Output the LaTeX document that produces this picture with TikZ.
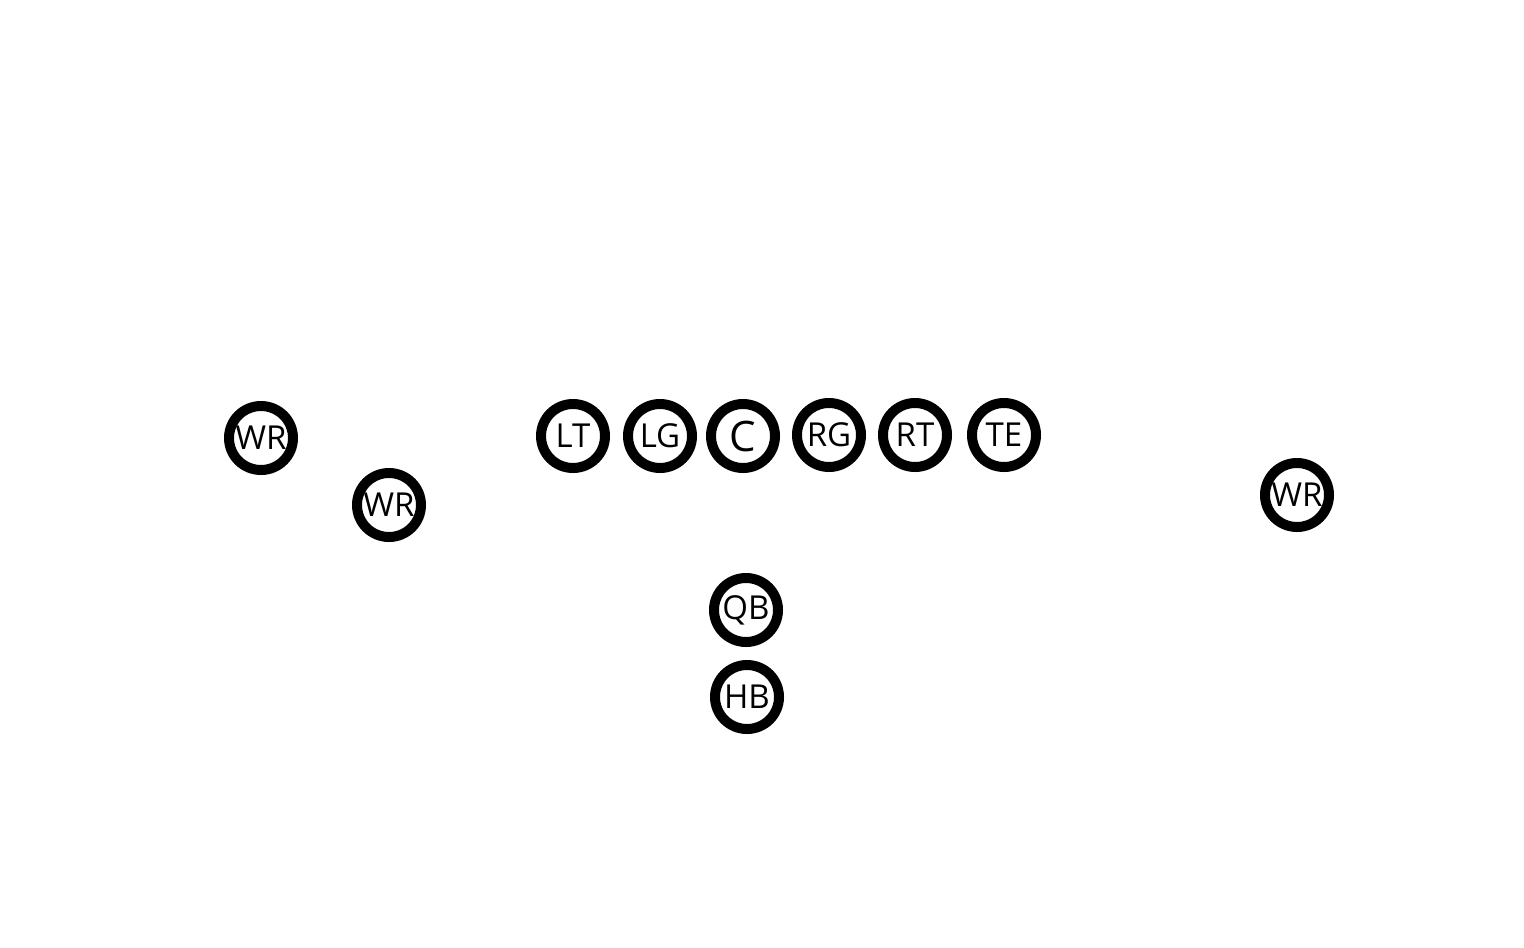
\documentclass[tikz,border=0pt]{standalone}
\usepackage{fontspec}
\setmainfont{Open Sans}
\tikzset{
	player/.style={circle, draw=black, line width=10pt, minimum size=64pt, inner sep=0pt, font=\fontsize{33}{33}\selectfont},
	center/.style={player, font=\fontsize{42}{42}\selectfont}
}
\begin{document}
\begin{tikzpicture}[x=1pt, y=-1pt]
	% page
	\useasboundingbox (0,0) rectangle (1524,948);
	% line of scrimmage
	\path
	(573, 436) node[player] (lt) {LT}
	(660, 436) node[player] (lg) {LG}
	(743, 436) node[center] (c) {C}
	(829, 435) node[player] (rg) {RG}
	(915, 435) node[player] (rt) {RT}
	(1004, 435) node[player] (te) {TE}
	;
	% receivers
	\path
	(261, 438) node[player] (wrA) {WR}
	(389, 505) node[player] (wrB) {WR}
	(1297, 495) node[player] (wrC) {WR}
	;
	% backfield
	\path
	(746, 610) node[player] (qb) {QB}
	(747, 697) node[player] (hb) {HB}
	;
\end{tikzpicture}
\end{document}
